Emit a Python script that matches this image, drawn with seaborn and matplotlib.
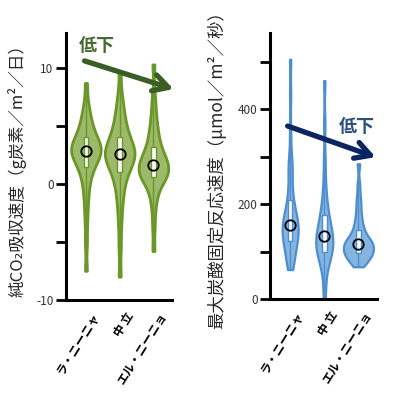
import numpy as np
import pandas as pd
import matplotlib
matplotlib.use("Agg")
import matplotlib.pyplot as plt
from matplotlib.transforms import ScaledTranslation
import seaborn as sns

sns.set_theme(style="white")
plt.rcParams['font.family'] = ['Noto Sans CJK JP', 'DejaVu Sans']

categories = ["ラ・ニーニャ", "中 立", "エル・ニーニョ"]

# Net CO2 uptake (gC/m2/day) — values
nep_lanina = [-7.5, -5.0, -3.2, -2.0, -1.1, -0.4,
              0.2, 0.6, 1.0, 1.3, 1.5, 1.7, 1.9, 2.1, 2.2, 2.4, 2.5, 2.6, 2.7, 2.8,
              2.9, 3.0, 3.1, 3.2, 3.3, 3.4, 3.5, 3.7, 3.8, 4.0, 4.2, 4.4, 4.6, 4.9,
              5.2, 5.5,
              5.9, 6.4, 7.1, 8.7]
nep_neutral = [-8.0, -5.5, -3.7, -2.5, -1.6, -0.9,
               -0.4, 0.1, 0.5, 0.8, 1.1, 1.3, 1.5, 1.7, 1.9, 2.0, 2.2, 2.3, 2.4, 2.5,
               2.6, 2.7, 2.8, 3.0, 3.1, 3.3, 3.4, 3.6, 3.8, 4.0, 4.2, 4.5, 4.8, 5.1,
               5.5, 5.9,
               6.4, 7.0, 7.8, 9.7]
nep_elnino = [-5.8, -3.8, -2.4, -1.5, -0.9,
              -0.5, -0.2, 0.2, 0.4, 0.5, 0.6, 0.7, 0.8, 0.9, 1.0, 1.1, 1.2, 1.4, 1.5,
              1.6, 1.8, 1.9, 2.0, 2.1, 2.2, 2.4, 2.6, 2.8, 3.0, 3.3, 3.6, 3.9, 4.3,
              4.7,
              5.2, 5.8, 6.6, 7.6, 10.3]

# Max carboxylation rate (umol/m2/s)
vc_lanina = [62, 70, 78, 86, 94, 102, 108, 114, 119, 124, 128, 132, 136, 140, 144,
             148, 152, 155, 158, 162, 166, 171, 176, 182, 189, 197, 206, 218, 235,
             255, 275, 282, 300, 350, 430, 505]
vc_neutral = [0, 30, 55, 70, 80, 86, 91, 96, 100, 104, 108, 112, 116, 120, 124,
              128, 132, 136, 140, 145, 150, 156, 162, 169, 177, 186, 197, 212, 230,
              260, 300, 370, 460]
vc_elnino = [68, 74, 78, 82, 85, 87, 91, 95, 96, 98, 100, 102, 104, 107, 110, 113,
             116, 117, 119, 121, 122, 126, 130, 135, 140, 146, 153, 162, 172, 185,
             200, 215, 240, 285]

def frame(groups):
    rows = []
    for cat, vals in zip(categories, groups):
        rows += [(cat, v) for v in vals]
    return pd.DataFrame(rows, columns=["enso", "value"])

df_nep = frame([nep_lanina, nep_neutral, nep_elnino])
df_vc = frame([vc_lanina, vc_neutral, vc_elnino])

fig = plt.figure(figsize=(4.0, 3.94), dpi=100)
ax1 = fig.add_axes([0.165, 0.239, 0.265, 0.677])
ax2 = fig.add_axes([0.675, 0.241, 0.268, 0.675])

def draw(ax, df, fill, edge, norm, bw, lw):
    sns.violinplot(data=df, x="enso", y="value", order=categories, ax=ax,
                   color=fill, linecolor=edge, linewidth=lw, inner=None,
                   cut=0, density_norm=norm, width=0.88, bw_adjust=bw,
                   saturation=1)
    sns.boxplot(data=df, x="enso", y="value", order=categories, ax=ax,
                whis=(0, 100), width=0.13, showcaps=False, showfliers=False,
                color="white", linecolor=edge, linewidth=1.0,
                medianprops=dict(linewidth=0))
    sns.pointplot(data=df, x="enso", y="value", order=categories, ax=ax,
                  estimator="median", errorbar=None, linestyle="none",
                  marker="o", markersize=7.5, markerfacecolor="none",
                  markeredgecolor="black", markeredgewidth=1.3, color="black")

draw(ax1, df_nep, "#9db96a", "#6b9628", "width", 0.55, 2.0)
draw(ax2, df_vc, "#86b4e0", "#4d8ed0", "area", 0.5, 1.6)

for ax in (ax1, ax2):
    for s in ("top", "right"):
        ax.spines[s].set_visible(False)
    for s in ("left", "bottom"):
        ax.spines[s].set_linewidth(2.2)
        ax.spines[s].set_color("black")
    ax.tick_params(axis="y", length=7, width=2, color="black", labelsize=8.5,
                   labelcolor="#333333", pad=2, left=True)
    ax.tick_params(axis="x", length=0, pad=4)
    ax.set_xlabel("")
    ax.set_xlim(-0.59, 2.55)

ax1.set_ylim(-10, 13)
ax1.set_yticks([-10, -5, 0, 5, 10])
ax1.set_yticklabels(["-10", "", "0", "", "10"])
ax1.set_ylabel("純CO₂吸収速度（g炭素／m²／日）", fontsize=12, labelpad=7)

ax2.set_ylim(0, 560)
ax2.set_yticks([0, 100, 200, 300, 400, 500])
ax2.set_yticklabels(["0", "", "200", "", "400", ""])
ax2.set_ylabel("最大炭酸固定反応速度（μmol／m²／秒）", fontsize=12.5, labelpad=8)

offset = ScaledTranslation(0.11, -0.08, fig.dpi_scale_trans)
for ax in (ax1, ax2):
    for lab in ax.get_xticklabels():
        lab.set_rotation(58)
        lab.set_ha("right")
        lab.set_va("center")
        lab.set_rotation_mode("anchor")
        lab.set_fontsize(8.5)
        lab.set_fontweight("bold")
        lab.set_color("black")
        lab.set_transform(lab.get_transform() + offset)

ax1.annotate("", xy=(1.04, 0.787), xytext=(0.15, 0.899), xycoords="axes fraction",
             arrowprops=dict(arrowstyle="->,head_length=0.9,head_width=0.5",
                             color="#3b5d26", lw=3.8), annotation_clip=False)
ax1.text(0.29, 0.955, "低下", transform=ax1.transAxes, ha="center", va="center",
         fontsize=13, fontweight="bold", color="#46692c")

ax2.annotate("", xy=(1.01, 0.53), xytext=(0.14, 0.654), xycoords="axes fraction",
             arrowprops=dict(arrowstyle="->,head_length=0.9,head_width=0.5",
                             color="#0b2462", lw=3.8), annotation_clip=False)
ax2.text(0.81, 0.647, "低下", transform=ax2.transAxes, ha="center", va="center",
         fontsize=13, fontweight="bold", color="#2c4f7c")

fig.savefig("out.png", dpi=100)
